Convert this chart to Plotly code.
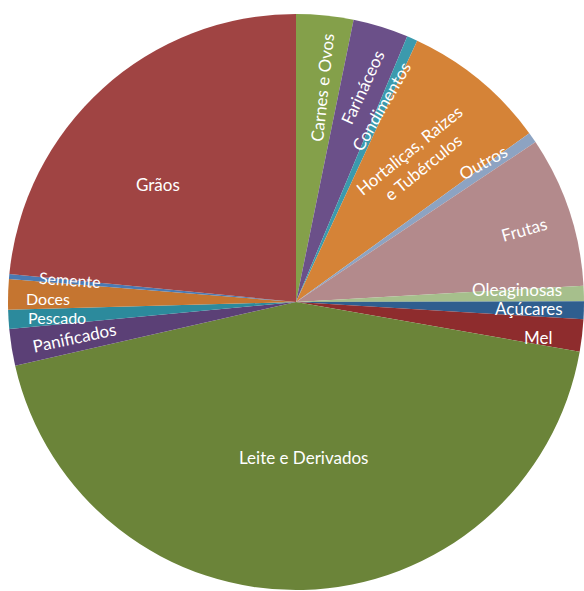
import math
import plotly.graph_objects as go

categories = ["Carnes e Ovos", "Farináceos", "Condimentos", "Hortaliças, Raizes e Tubérculos",
              "Outros", "Frutas", "Oleaginosas", "Açúcares", "Mel", "Leite e Derivados",
              "Panificados", "Pescado", "Doces", "Semente", "Grãos"]
values = [3.2, 3.1, 0.6, 8.1, 0.6, 8.45, 0.86, 1.0, 1.8, 43.6, 2.06, 1.06, 1.7, 0.28, 23.4]
display_labels = ["Carnes e Ovos", "Farináceos", "Condimentos", "Hortaliças, Raizes<br>e Tubérculos",
                  "Outros", "Frutas", "Oleaginosas", "Açúcares", "Mel", "Leite e Derivados",
                  "Panificados", "Pescado", "Doces", "Semente", "Grãos"]

colors = ["#84A04A", "#6B5089", "#3B9AAD", "#D58337", "#8DA3C2", "#B38A8C", "#A6BF8C",
          "#2F5E8F", "#8E2C2D", "#6B8439", "#5B4076", "#2C8A9C", "#C57530", "#4A7AB3", "#A04443"]

# label styling (radius fraction, angular nudge in degrees, text rotation, font size)
label_r = [0.75, 0.78, 0.74, 0.65, 0.81, 0.83, 0.77, 0.81, 0.85, 0.54, 0.78, 0.83, 0.86, 0.79, 0.63]
label_shift = [1.2, 0, -0.2, 0.5, -2.0, 0.9, -1.5, 0, 1.6, -1.2, 0, -0.3, -0.8, 0.5, -7.5]
label_rot = [-84, -65, -60, -39, -29, -16, 0, 0, 0, 0, -12, 0, 0, 4, 0]
label_size = [17, 17, 17, 17, 17, 17, 17, 17, 17, 17, 17, 16, 16, 16, 17]

W, H = 584, 591
dom_x = [8 / W, 1.0]
dom_y = [1 / H, (H - 14) / H]

fig = go.Figure(go.Pie(
    labels=categories, values=values, sort=False, direction="clockwise", rotation=0,
    marker=dict(colors=colors, line=dict(width=0)),
    textinfo="none", hoverinfo="label+percent", showlegend=False,
    domain=dict(x=dom_x, y=dom_y),
))

# pie geometry in paper coordinates
cx_px = (dom_x[0] + dom_x[1]) / 2 * W
cy_px = H - (dom_y[0] + dom_y[1]) / 2 * H
radius = min((dom_x[1] - dom_x[0]) * W, (dom_y[1] - dom_y[0]) * H) / 2

total = sum(values)
cum = 0.0
annotations = []
for lab, v, rf, sh, rot, fs in zip(display_labels, values, label_r, label_shift, label_rot, label_size):
    mid = (cum + v / 2) / total * 360 + sh
    cum += v
    a = math.radians(mid)
    px = cx_px + rf * radius * math.sin(a)
    py = cy_px - rf * radius * math.cos(a)
    annotations.append(dict(
        x=px / W, y=1 - py / H, xref="paper", yref="paper", text=lab, showarrow=False,
        textangle=rot, xanchor="center", yanchor="middle", borderpad=0,
        font=dict(family="Lato", size=fs, color="white"),
    ))

fig.update_layout(
    width=W, height=H, margin=dict(l=0, r=0, t=0, b=0),
    paper_bgcolor="white", plot_bgcolor="white", annotations=annotations,
)
fig.write_html("out.html")
